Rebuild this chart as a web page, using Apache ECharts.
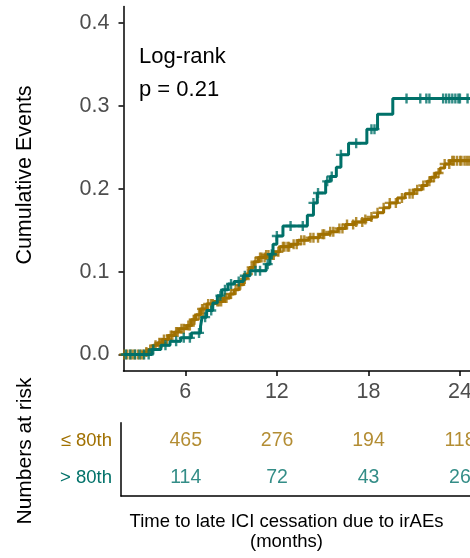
<!DOCTYPE html>
<html><head><meta charset="utf-8">
<script src="https://cdn.jsdelivr.net/npm/echarts@6/dist/echarts.min.js"></script>
<style>html,body{margin:0;padding:0;background:#fff}#c{width:470px;height:558px}</style>
</head><body><div id="c"></div>
<script>
const groups = ['≤ 80th', '> 80th'];
// cumulative incidence step data [month, cumulative events]
const lowSteps = [[1.95,0],[3.3,0.003],[3.6,0.006],[3.9,0.011],[4.2,0.014],[4.5,0.018],[4.9,0.023],[5.3,0.027],[5.6,0.031],[6.1,0.035],[6.4,0.042],[6.7,0.048],[7.0,0.055],[7.4,0.061],[7.9,0.064],[8.5,0.068],[8.9,0.073],[9.2,0.078],[9.5,0.084],[9.8,0.091],[10.0,0.097],[10.2,0.105],[10.5,0.112],[10.8,0.117],[11.3,0.120],[11.9,0.124],[12.2,0.130],[12.9,0.133],[13.4,0.138],[14.1,0.141],[14.8,0.145],[15.5,0.148],[16.0,0.152],[16.5,0.157],[17.1,0.160],[17.7,0.163],[18.2,0.166],[18.6,0.171],[19.0,0.177],[19.4,0.183],[19.9,0.189],[20.4,0.194],[21.0,0.199],[21.5,0.204],[21.85,0.209],[22.1,0.214],[22.4,0.219],[22.7,0.225],[23.0,0.230],[23.35,0.234],[24.7,0.234]];
const highSteps = [[1.95,0],[3.8,0.006],[4.4,0.011],[5.0,0.016],[5.7,0.020],[6.4,0.026],[7.0,0.034],[7.1,0.045],[7.4,0.053],[7.8,0.062],[8.1,0.071],[8.4,0.078],[8.8,0.085],[9.2,0.088],[9.8,0.095],[10.25,0.101],[11.3,0.109],[11.55,0.121],[11.75,0.133],[12.0,0.143],[12.4,0.155],[14.0,0.168],[14.4,0.183],[14.65,0.195],[15.2,0.209],[15.5,0.215],[15.9,0.226],[16.2,0.241],[16.7,0.255],[17.9,0.272],[18.6,0.290],[19.6,0.309],[24.7,0.309]];
// censoring times (months)
const lowCensor = [2.0,2.2,2.4,2.55,2.7,2.9,3.1,3.25,3.45,3.7,3.85,4.05,4.3,4.45,4.6,4.8,5.05,5.15,5.4,5.5,5.75,5.9,6.2,6.3,6.55,6.6,6.9,7.1,7.2,7.5,7.7,7.8,8.1,8.2,8.35,8.6,8.7,9.0,9.3,9.6,9.9,10.1,10.35,10.6,10.9,11.0,11.2,11.3,11.45,11.7,11.8,12.1,12.4,12.5,12.7,12.8,13.1,13.3,13.6,13.8,14.2,14.4,14.7,15.0,15.1,15.5,15.7,16.1,16.3,16.6,17.0,17.2,17.6,17.8,18.2,18.6,19.0,19.4,19.8,20.2,20.7,20.9,21.2,21.6,22.0,22.3,22.6,23.0,23.3,23.5,23.6,23.8,24.0,24.1,24.3,24.45,24.6];
const highCensor = [2.1,2.4,2.7,3.0,3.3,3.6,3.9,4.7,5.4,5.9,6.3,6.9,7.3,7.7,8.3,8.6,9.0,9.5,9.9,10.6,10.9,11.4,11.67,12.0,12.9,13.7,14.4,14.7,15.3,15.6,16.2,17.2,18.2,18.4,20.5,21.4,21.8,22.0,22.9,23.1,23.3,23.5,23.7,23.9,24.0,24.5];
const riskTimes = [6,12,18,24];
const riskLow = [465,276,194,118];
const riskHigh = [114,72,43,26];
const xTicks = [6,12,18,24];
const yTicks = [0,0.1,0.2,0.3,0.4];

const GOLD = '#A07000', TEAL = '#007169';
const FONT = '"Liberation Sans", Arial, sans-serif';
const PLUS = 'path://M-1.2,-5 L1.2,-5 L1.2,-1.2 L5,-1.2 L5,1.2 L1.2,1.2 L1.2,5 L-1.2,5 L-1.2,1.2 L-5,1.2 L-5,-1.2 L-1.2,-1.2 Z';

function valueAt(steps, t) { let v = 0; for (const [s, val] of steps) { if (s <= t) v = val; } return v; }

const chart = echarts.init(document.getElementById('c'), null, {renderer: 'canvas'});
const axisLineStyle = {color: '#000', width: 1.5};
chart.setOption({
  animation: false,
  textStyle: {fontFamily: FONT},
  grid: [
    {left: 123.5, right: 0, top: 6.6, height: 364.4, outerBoundsMode: 'none', containLabel: false},
    {left: 121, right: 0, top: 422.7, height: 73.3, outerBoundsMode: 'none', containLabel: false}
  ],
  xAxis: [
    {type: 'value', gridIndex: 0, min: 1.95, max: 24.66,
     axisLine: {show: true, onZero: false, lineStyle: axisLineStyle},
     axisTick: {show: true, length: 5, lineStyle: axisLineStyle, customValues: xTicks},
     axisLabel: {customValues: xTicks, fontSize: 21.5, color: '#4D4D4D', margin: 10, fontFamily: FONT},
     splitLine: {show: false}},
    {type: 'value', gridIndex: 1, min: 1.753, max: 24.66,
     axisLine: {show: true, onZero: false, lineStyle: axisLineStyle},
     axisTick: {show: false}, axisLabel: {show: false}, splitLine: {show: false}}
  ],
  yAxis: [
    {type: 'value', gridIndex: 0, min: -0.02, max: 0.42,
     axisLine: {show: true, onZero: false, lineStyle: axisLineStyle},
     axisTick: {show: true, length: 5, lineStyle: axisLineStyle, customValues: yTicks},
     axisLabel: {customValues: yTicks, formatter: v => v.toFixed(1), fontSize: 21.5, color: '#4D4D4D', margin: 14, fontFamily: FONT},
     splitLine: {show: false}},
    {type: 'category', gridIndex: 1, data: [groups[1], groups[0]],
     axisLine: {show: true, onZero: false, lineStyle: axisLineStyle},
     axisTick: {show: false}, splitLine: {show: false},
     axisLabel: {fontSize: 18.5, margin: 9, fontFamily: FONT, color: v => v === groups[0] ? GOLD : TEAL}}
  ],
  series: [
    {type: 'line', name: groups[0], xAxisIndex: 0, yAxisIndex: 0, step: 'end', showSymbol: false, data: lowSteps,
     lineStyle: {color: GOLD, width: 3}, itemStyle: {color: GOLD}, z: 2, silent: true},
    {type: 'scatter', xAxisIndex: 0, yAxisIndex: 0, symbol: PLUS, symbolSize: 10,
     data: lowCensor.map(t => [t, valueAt(lowSteps, t)]), itemStyle: {color: GOLD}, z: 3, silent: true},
    {type: 'line', name: groups[1], xAxisIndex: 0, yAxisIndex: 0, step: 'end', showSymbol: false, data: highSteps,
     lineStyle: {color: TEAL, width: 3}, itemStyle: {color: TEAL}, z: 4, silent: true},
    {type: 'scatter', xAxisIndex: 0, yAxisIndex: 0, symbol: PLUS, symbolSize: 10,
     data: highCensor.map(t => [t, valueAt(highSteps, t)]), itemStyle: {color: TEAL}, z: 5, silent: true},
    {type: 'scatter', xAxisIndex: 1, yAxisIndex: 1, symbolSize: 1, itemStyle: {color: 'rgba(0,0,0,0)'}, silent: true,
     data: riskTimes.map((t, i) => [t, groups[0], riskLow[i]]),
     label: {show: true, position: 'inside', formatter: p => String(p.data[2]), color: GOLD, fontSize: 19.5, fontFamily: FONT}},
    {type: 'scatter', xAxisIndex: 1, yAxisIndex: 1, symbolSize: 1, itemStyle: {color: 'rgba(0,0,0,0)'}, silent: true,
     data: riskTimes.map((t, i) => [t, groups[1], riskHigh[i]]),
     label: {show: true, position: 'inside', formatter: p => String(p.data[2]), color: TEAL, fontSize: 19.5, fontFamily: FONT}}
  ],
  graphic: [
    {type: 'text', x: 25, y: 175, rotation: Math.PI / 2, style: {text: 'Cumulative Events', fontSize: 21.5, fontFamily: FONT, fill: '#000', align: 'center', verticalAlign: 'middle'}},
    {type: 'text', x: 25, y: 451, rotation: Math.PI / 2, style: {text: 'Numbers at risk', fontSize: 21, fontFamily: FONT, fill: '#000', align: 'center', verticalAlign: 'middle'}},
    {type: 'text', x: 139, y: 57, style: {text: 'Log-rank', fontSize: 22, fontFamily: FONT, fill: '#000', align: 'left', verticalAlign: 'middle'}},
    {type: 'text', x: 139, y: 90, style: {text: 'p = 0.21', fontSize: 22, fontFamily: FONT, fill: '#000', align: 'left', verticalAlign: 'middle'}},
    {type: 'text', x: 286.5, y: 522, style: {text: 'Time to late ICI cessation due to irAEs', fontSize: 18.5, fontFamily: FONT, fill: '#000', align: 'center', verticalAlign: 'middle'}},
    {type: 'text', x: 286.5, y: 542, style: {text: '(months)', fontSize: 18.5, fontFamily: FONT, fill: '#000', align: 'center', verticalAlign: 'middle'}}
  ]
});
</script>
</body></html>
